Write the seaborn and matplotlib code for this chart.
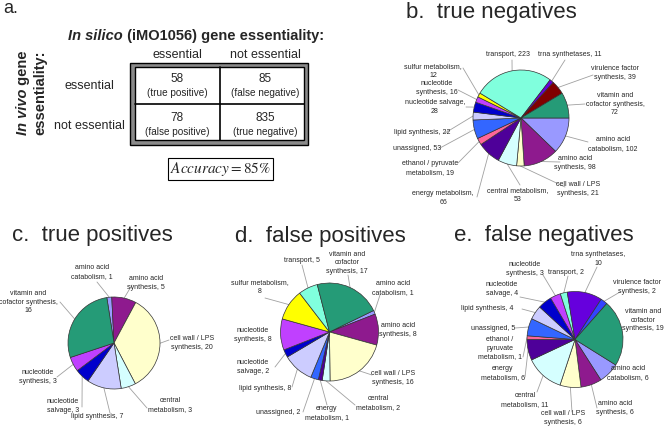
import numpy as np
import matplotlib
matplotlib.use("Agg")
import matplotlib.pyplot as plt
import seaborn as sns
from matplotlib.patches import Rectangle

W, H = 664, 426

# ---- panel a: confusion matrix ----
col_labels = ["essential", "not essential"]
row_labels = ["essential", "not essential"]
counts = [[58, 85], [78, 835]]
cell_names = [["true positive", "false negative"], ["false positive", "true negative"]]
accuracy = 85

# ---- pie data (slices listed clockwise) ----
tn_labels = ["amino acid\ncatabolism, {}", "amino acid\nsynthesis, {}", "cell wall / LPS\nsynthesis, {}",
             "central metabolism,\n{}", "energy metabolism,\n{}", "ethanol / pyruvate\nmetabolism, {}",
             "unassigned, {}", "lipid synthesis, {}", "nucleotide salvage,\n{}", "nucleotide\nsynthesis, {}",
             "sulfur metabolism,\n{}", "transport, {}", "trna synthetases, {}",
             "virulence factor\nsynthesis, {}", "vitamin and\ncofactor synthesis,\n{}"]
tn_values = [102, 98, 21, 53, 66, 19, 53, 22, 28, 16, 12, 223, 11, 39, 72]
tn_colors = ["#9999FF", "#8E1A8E", "#FFFFCC", "#D5FFFF", "#4E0099", "#FF6699", "#3366FF", "#CCCCFF",
             "#0000CC", "#C040FF", "#FFFF00", "#80FFDD", "#6600DD", "#800000", "#259B77"]

tp_labels = ["amino acid\ncatabolism, {}", "amino acid\nsynthesis, {}", "cell wall / LPS\nsynthesis, {}",
             "central\nmetabolism, {}", "lipid synthesis, {}", "nucleotide\nsalvage, {}",
             "nucleotide\nsynthesis, {}", "vitamin and\ncofactor synthesis,\n{}"]
tp_values = [1, 5, 20, 3, 7, 3, 3, 16]
tp_colors = ["#9999FF", "#8E1A8E", "#FFFFCC", "#D5FFFF", "#CCCCFF", "#0000CC", "#C040FF", "#259B77"]

fp_labels = ["amino acid\ncatabolism, {}", "amino acid\nsynthesis, {}", "cell wall / LPS\nsynthesis, {}",
             "central\nmetabolism, {}", "energy\nmetabolism, {}", "unassigned, {}", "lipid synthesis, {}",
             "nucleotide\nsalvage, {}", "nucleotide\nsynthesis, {}", "sulfur metabolism,\n{}",
             "transport, {}", "vitamin and\ncofactor\nsynthesis, {}"]
fp_values = [1, 8, 16, 2, 1, 2, 8, 2, 8, 8, 5, 17]
fp_colors = ["#9999FF", "#8E1A8E", "#FFFFCC", "#D5FFFF", "#4E0099", "#3366FF", "#CCCCFF", "#0000CC",
             "#C040FF", "#FFFF00", "#80FFDD", "#259B77"]

fn_labels = ["amino acid\ncatabolism, {}", "amino acid\nsynthesis, {}", "cell wall / LPS\nsynthesis, {}",
             "central\nmetabolism, {}", "energy\nmetabolism, {}", "ethanol /\npyruvate\nmetabolism, {}",
             "unassigned, {}", "lipid synthesis, {}", "nucleotide\nsalvage, {}", "nucleotide\nsynthesis, {}",
             "transport, {}", "trna synthetases,\n{}", "virulence factor\nsynthesis, {}",
             "vitamin and\ncofactor\nsynthesis, {}"]
fn_values = [6, 6, 6, 11, 6, 1, 5, 4, 4, 3, 2, 10, 2, 19]
fn_colors = ["#9999FF", "#8E1A8E", "#FFFFCC", "#D5FFFF", "#4E0099", "#FF6699", "#3366FF", "#CCCCFF",
             "#0000CC", "#C040FF", "#80FFDD", "#6600DD", "#3344FF", "#259B77"]

# label layout (screen px): text centre, leader line end
tn_pos = [(613, 144, 588, 142), (575, 163, 560, 162), (578, 189, 565, 187), (518, 195, 520, 185),
          (443, 198, 477, 197), (430, 168, 458, 163), (417, 149, 440, 148), (422, 133, 445, 133),
          (435, 107, 466, 107), (437, 88, 458, 90), (433, 71, 463, 68), (508, 55, 512, 60),
          (570, 55, 565, 60), (615, 73, 593, 75), (615, 104, 585, 104)]
tp_pos = [(92, 272, 97, 282), (146, 283, 132, 285), (192, 343, 169, 340), (170, 405, 147, 408),
          (97, 417, 110, 413), (63, 406, 82, 407), (38, 377, 57, 377), (28, 302, 60, 302)]
fp_pos = [(393, 288, 380, 295), (398, 330, None, None), (393, 378, 372, 375), (378, 403, 355, 405),
          (327, 413, 327, 405), (278, 413, 303, 412), (265, 388, 292, 387), (253, 367, 275, 367),
          (253, 335, None, None), (260, 287, 265, 298), (302, 260, 302, 265), (347, 263, 348, 275)]
fn_pos = [(628, 373, None, None), (615, 408, 597, 408), (563, 418, 572, 412), (525, 400, 537, 392),
          (503, 373, 525, 377), (500, 348, 523, 357), (493, 329, 515, 328), (487, 309, 522, 309),
          (502, 289, 520, 297), (525, 269, 543, 275), (566, 272, 568, 276), (598, 259, 597, 267),
          (637, 287, 620, 292), (643, 320, None, None)]

sns.set_theme(style="white")
plt.rcParams["font.family"] = ["Liberation Sans", "DejaVu Sans"]
plt.rcParams["mathtext.fontset"] = "stix"


def Y(y):
    return H - y


fig = plt.figure(figsize=(W / 100, H / 100), dpi=100)
ax = fig.add_axes([0, 0, 1, 1])
renderer = fig.canvas.get_renderer()


def width_of(t):
    return t.get_window_extent(renderer=renderer).width


def draw_pie(values, colors, labels, pos, center, r, start, title, title_xy):
    cx, cy = center[0], Y(center[1])
    wedges, _ = ax.pie(values, colors=colors, startangle=start, counterclock=False,
                       radius=r, center=(cx, cy),
                       wedgeprops=dict(edgecolor="#333333", linewidth=0.5))
    for w, fmt, v, (tx, ty, lx, ly) in zip(wedges, labels, values, pos):
        mid = np.deg2rad((w.theta1 + w.theta2) / 2)
        ex, ey = cx + r * np.cos(mid), cy + r * np.sin(mid)
        if lx is not None:
            ax.plot([ex, lx], [ey, Y(ly)], color="#A0A0A0", lw=0.6, zorder=0)
        ax.text(tx, Y(ty), fmt.format(v), fontsize=5, ha="center", va="center",
                multialignment="center", linespacing=1.35)
    ax.text(title_xy[0], Y(title_xy[1]), title, fontsize=16, ha="left", va="baseline")


draw_pie(tn_values, tn_colors, tn_labels, tn_pos, (521, 118), 48, 0, "b.  true negatives", (406, 18))
draw_pie(tp_values, tp_colors, tp_labels, tp_pos, (114, 343), 46, 99, "c.  true positives", (12, 241))
draw_pie(fp_values, fp_colors, fp_labels, fp_pos, (329.5, 332), 49, 26, "d.  false positives", (235, 242))
draw_pie(fn_values, fn_colors, fn_labels, fn_pos, (575, 339.5), 48, -32, "e.  false negatives", (454, 241))

# ---- panel a ----
ax.text(3, Y(0), "a.", fontsize=13, ha="left", va="top")

t1 = ax.text(68, Y(40), "In silico", fontsize=10.5, fontweight="bold", style="italic", va="baseline")
ax.text(68 + width_of(t1), Y(40), " (iMO1056) gene essentiality:", fontsize=10.5,
        fontweight="bold", va="baseline")

# rotated row title
full = ax.text(0, 0, "In vivo gene", fontsize=10.5, fontweight="bold")
part = ax.text(0, 0, "In vivo", fontsize=10.5, fontweight="bold", style="italic")
tot, w1 = width_of(full), width_of(part)
full.remove()
part.remove()
y0 = Y(93) - tot / 2
ax.text(23, y0, "In vivo", fontsize=10.5, fontweight="bold", style="italic",
        rotation=90, ha="center", va="bottom")
ax.text(23, y0 + w1, " gene", fontsize=10.5, fontweight="bold", rotation=90, ha="center", va="bottom")
ax.text(40, Y(93), "essentiality:", fontsize=10.5, fontweight="bold", rotation=90,
        ha="center", va="center")

col_x = [177, 265]
row_y = [79, 118]
for x, lab in zip(col_x, col_labels):
    ax.text(x, Y(58.5), lab, fontsize=9, ha="center", va="baseline")
for y, lab in zip([86, 126], row_labels):
    ax.text(89, Y(y), lab, fontsize=9, ha="center", va="center")

ax.add_patch(Rectangle((130, Y(144.5)), 178, 82, facecolor="#8A8A8A", edgecolor="black", lw=1))
ax.add_patch(Rectangle((134.5, Y(140)), 169, 73, facecolor="white", edgecolor="black", lw=1))
ax.plot([220, 220], [Y(67), Y(140)], color="black", lw=1.2)
ax.plot([134.5, 303.5], [Y(103.5), Y(103.5)], color="black", lw=1.2)
for i in range(2):
    for j in range(2):
        ax.text(col_x[j], Y(row_y[i]), str(counts[i][j]), fontsize=8.5, ha="center", va="center")
        ax.text(col_x[j], Y(row_y[i] + 14), "(" + cell_names[i][j] + ")", fontsize=7.2,
                ha="center", va="center")

ax.add_patch(Rectangle((168, Y(180)), 105, 22, facecolor="white", edgecolor="black", lw=0.8))
ax.text(220.5, Y(169), r"$Accuracy = %d\%%$" % accuracy, fontsize=11, ha="center", va="center")

ax.set_xlim(0, W)
ax.set_ylim(0, H)
ax.set_aspect("auto")
ax.axis("off")
fig.savefig("out.png", dpi=100)
